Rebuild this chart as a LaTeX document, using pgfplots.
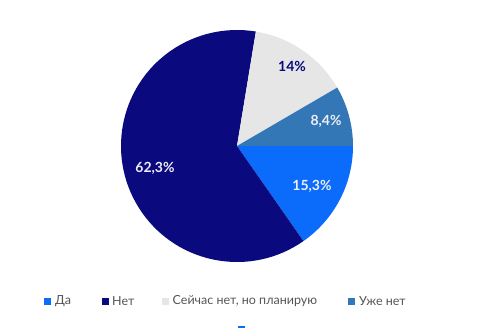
\documentclass[border=0pt]{standalone}
\usepackage{pgfplots}
\pgfplotsset{compat=1.18}
\usepackage{fontspec}
\setmainfont{Lato}
\definecolor{cDa}{HTML}{0B6CFB}
\definecolor{cNet}{HTML}{0A0A7E}
\definecolor{cPlan}{HTML}{E6E6E6}
\definecolor{cUzhe}{HTML}{3377B7}
\definecolor{cLeg}{HTML}{555555}
\definecolor{cLab}{HTML}{EEEEF6}
% shares, percent
\def\vDa{15.3}
\def\vNet{62.3}
\def\vPlan{14}
\def\vUzhe{8.4}
\begin{document}
\begin{tikzpicture}
\begin{axis}[
  x=1pt, y=1pt, scale only axis,
  xmin=0, xmax=482, ymin=0, ymax=328,
  hide axis, clip=false,
]
\pgfmathsetmacro{\aA}{0}
\pgfmathsetmacro{\aB}{\aA-3.6*\vDa}
\pgfmathsetmacro{\aC}{\aB-3.6*\vNet}
\pgfmathsetmacro{\aD}{\aC-3.6*\vPlan}
\pgfmathsetmacro{\aE}{\aD-3.6*\vUzhe}
\path (axis cs:0,0) rectangle (axis cs:482,328);
\fill[cDa] (axis cs:237,182) -- ++(\aA:116pt) arc[start angle=\aA, end angle=\aB, radius=116pt] -- cycle;
\fill[cNet] (axis cs:237,182) -- ++(\aB:116pt) arc[start angle=\aB, end angle=\aC, radius=116pt] -- cycle;
\fill[cPlan] (axis cs:237,182) -- ++(\aC:116pt) arc[start angle=\aC, end angle=\aD, radius=116pt] -- cycle;
\fill[cUzhe] (axis cs:237,182) -- ++(\aD:116pt) arc[start angle=\aD, end angle=\aE, radius=116pt] -- cycle;
% slice labels
\node[font=\fontsize{14}{16}\selectfont\bfseries, text=cNet] at (axis cs:292,262) {14\%};
\node[font=\fontsize{14}{16}\selectfont\bfseries, text=cLab] at (axis cs:326,207) {8,4\%};
\node[font=\fontsize{14}{16}\selectfont\bfseries, text=cLab] at (axis cs:312,142) {15,3\%};
\node[font=\fontsize{14}{16}\selectfont\bfseries, text=cLab] at (axis cs:155,160) {62,3\%};
% legend
\fill[cDa] (axis cs:43.5,23) rectangle (axis cs:50.5,30);
\node[anchor=west, inner sep=0pt, text=cLeg, font=\fontsize{12.5}{14}\selectfont] at (axis cs:55,26.5) {Да};
\fill[cNet] (axis cs:102,23) rectangle (axis cs:109,30);
\node[anchor=west, inner sep=0pt, text=cLeg, font=\fontsize{12.5}{14}\selectfont] at (axis cs:112,26.5) {Нет};
\fill[cPlan] (axis cs:162,23) rectangle (axis cs:169,30);
\node[anchor=west, inner sep=0pt, text=cLeg, font=\fontsize{12.5}{14}\selectfont] at (axis cs:172.5,26.5) {Сейчас нет, но планирую};
\fill[cUzhe] (axis cs:348,23) rectangle (axis cs:355,30);
\node[anchor=west, inner sep=0pt, text=cLeg, font=\fontsize{12.5}{14}\selectfont] at (axis cs:359,26.5) {Уже нет};
\draw[cDa, line width=1.2pt] (axis cs:238,1) -- (axis cs:245,1);
\end{axis}
\end{tikzpicture}
\end{document}
